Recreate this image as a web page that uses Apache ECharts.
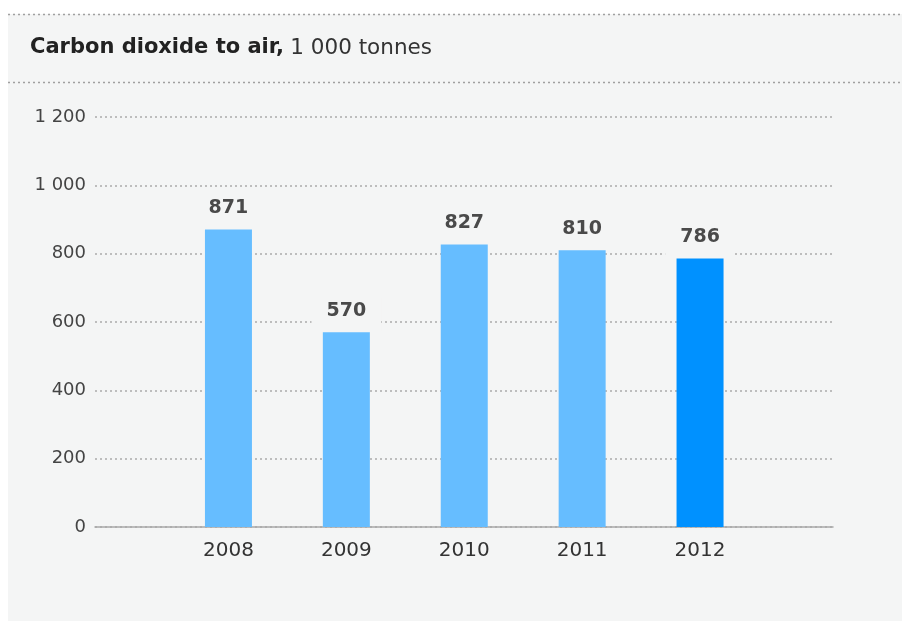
<!DOCTYPE html>
<html>
<head>
<meta charset="utf-8">
<script src="https://cdn.jsdelivr.net/npm/echarts@6/dist/echarts.min.js"></script>
<style>
  html, body { margin: 0; padding: 0; background: #ffffff; }
  #chart { width: 902px; height: 621px; }
</style>
</head>
<body>
<div id="chart"></div>
<script>
// Emissions of carbon dioxide to air, in 1 000 tonnes
const years = ['2008', '2009', '2010', '2011', '2012'];
const co2Values = [871, 570, 827, 810, 786];
const yTicks = [0, 200, 400, 600, 800, 1000, 1200];

const PANEL = '#f4f5f5';
const LIGHT = '#66bdff';
const DARK = '#0091ff';
const FONT = '"DejaVu Sans", "Liberation Sans", sans-serif';

// thousands separated by a space: 1200 -> "1 200"
const fmt = v => String(v).replace(/\B(?=(\d{3})+(?!\d))/g, ' ');

const chart = echarts.init(document.getElementById('chart'));

chart.setOption({
  backgroundColor: '#ffffff',
  animation: false,
  textStyle: { fontFamily: FONT },
  title: {
    text: '{b|Carbon dioxide to air,} {n|1 000 tonnes}',
    left: 30,
    top: 37,
    padding: 0,
    textStyle: {
      fontFamily: FONT,
      rich: {
        b: { fontFamily: FONT, fontSize: 21, fontWeight: 'bold', color: '#222222' },
        n: { fontFamily: FONT, fontSize: 21.5, fontWeight: 'normal', color: '#333333' }
      }
    }
  },
  graphic: [
    { type: 'rect', z: -10, silent: true,
      shape: { x: 8, y: 14, width: 894, height: 607 },
      style: { fill: PANEL } },
    { type: 'line', silent: true,
      shape: { x1: 8, y1: 14.5, x2: 902, y2: 14.5 },
      style: { stroke: '#a0a0a0', lineWidth: 1.5, lineDash: [2, 3] } },
    { type: 'line', silent: true,
      shape: { x1: 8, y1: 82.5, x2: 902, y2: 82.5 },
      style: { stroke: '#a0a0a0', lineWidth: 1.5, lineDash: [2, 3] } }
  ],
  grid: [
    // frame grid: value labels, dotted guides and base line across the full width
    { left: 95, right: 69, top: 117, bottom: 94 },
    // bar grid: narrower so the year bands sit inside the frame
    { left: 169.5, right: 143, top: 117, bottom: 94 }
  ],
  xAxis: [
    {
      gridIndex: 0, type: 'category', data: [''],
      axisLine: { show: true, lineStyle: { color: '#a8a8a8', width: 1.5 } },
      axisTick: { show: false }, axisLabel: { show: false }, splitLine: { show: false }
    },
    {
      gridIndex: 1, type: 'category', data: years,
      axisLine: { show: false }, axisTick: { show: false },
      axisLabel: { color: '#333333', fontSize: 20, margin: 14, fontFamily: FONT }
    }
  ],
  yAxis: [
    {
      gridIndex: 0, type: 'value', min: yTicks[0], max: yTicks[yTicks.length - 1], interval: 200,
      axisLine: { show: false }, axisTick: { show: false },
      axisLabel: { color: '#444444', fontSize: 18, margin: 9, fontFamily: FONT, formatter: fmt },
      splitLine: { lineStyle: { color: '#ababab', width: 1.5, type: [2, 3] } }
    },
    {
      gridIndex: 1, type: 'value', min: yTicks[0], max: yTicks[yTicks.length - 1], interval: 200,
      show: false, splitLine: { show: false }
    }
  ],
  series: [
    {
      type: 'bar',
      xAxisIndex: 1,
      yAxisIndex: 1,
      barWidth: 47,
      z: 5,
      data: co2Values.map((v, i) => ({
        value: v,
        itemStyle: { color: i === co2Values.length - 1 ? DARK : LIGHT }
      })),
      label: {
        show: true,
        position: 'top',
        distance: 1,
        formatter: p => fmt(p.value),
        fontFamily: FONT,
        fontSize: 19,
        fontWeight: 'bold',
        color: '#4a4a4a',
        backgroundColor: PANEL,
        padding: [4, 15, 11, 15]
      }
    }
  ]
});
</script>
</body>
</html>
